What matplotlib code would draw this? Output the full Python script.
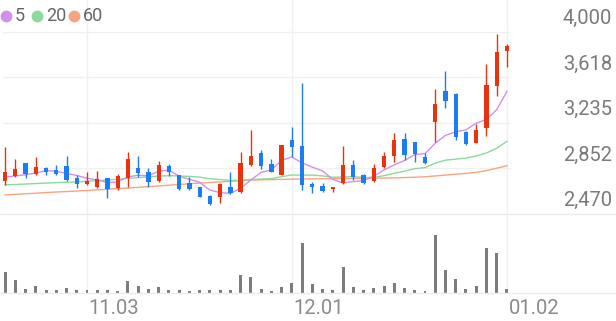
import numpy as np
import matplotlib.pyplot as plt
from matplotlib.lines import Line2D
from matplotlib.transforms import blended_transform_factory, offset_copy

plt.rcParams['font.family'] = ['Roboto', 'DejaVu Sans']

# daily candles
opens = [2745, 2790, 2900, 2805, 2855, 2840, 2875, 2775, 2720, 2695,
         2775, 2690, 2775, 2855, 2825, 2745, 2875, 2800, 2730, 2695,
         2620, 2615, 2695, 2655, 2880, 2985, 2890, 2800, 3090, 3040,
         2720, 2705, 2680, 2730, 2880, 2800, 2745, 2865, 2960, 3100,
         3075, 2950, 3245, 3505, 3480, 3160, 3065, 3195, 3545, 3840]
highs = [3035, 2930, 2900, 2950, 2865, 2880, 2960, 2800, 2825, 2830,
         2775, 2805, 2990, 2960, 2855, 2915, 2890, 2800, 2780, 2700,
         2630, 2730, 2825, 2990, 3175, 3010, 2930, 3050, 3200, 3570,
         2740, 2730, 2700, 3040, 2925, 2805, 2890, 2990, 3150, 3150,
         3075, 2985, 3520, 3670, 3485, 3170, 3225, 3730, 3985, 3900]
lows = [2715, 2780, 2775, 2800, 2800, 2800, 2745, 2690, 2715, 2690,
        2605, 2670, 2695, 2780, 2695, 2740, 2790, 2675, 2670, 2610,
        2545, 2560, 2640, 2650, 2875, 2850, 2820, 2795, 2950, 2670,
        2645, 2655, 2655, 2720, 2755, 2725, 2740, 2855, 2905, 2925,
        2905, 2890, 3075, 3360, 3090, 3050, 3065, 3125, 3460, 3705]
closes = [2825, 2850, 2805, 2865, 2825, 2805, 2755, 2720, 2745, 2765,
          2680, 2790, 2930, 2815, 2740, 2880, 2825, 2680, 2680, 2615,
          2555, 2720, 2645, 2900, 2960, 2875, 2825, 3050, 3035, 2715,
          2695, 2665, 2695, 2880, 2780, 2730, 2855, 2960, 3090, 2965,
          2975, 2900, 3395, 3420, 3115, 3060, 3175, 3555, 3830, 3880]
volumes = [420, 255, 80, 135, 55, 65, 100, 55, 55, 55,
           65, 40, 245, 135, 80, 115, 60, 55, 45, 55,
           55, 55, 65, 355, 315, 85, 45, 120, 200, 1000,
           185, 80, 65, 520, 120, 65, 95, 135, 200, 105,
           60, 40, 1155, 465, 285, 85, 145, 900, 800, 80]

# moving average lines as drawn on the chart
ma5 = [2780, 2790, 2800, 2815, 2834, 2830, 2811, 2794, 2770, 2758,
       2733, 2740, 2782, 2796, 2791, 2831, 2838, 2788, 2761, 2736,
       2671, 2650, 2643, 2687, 2756, 2820, 2841, 2922, 2949, 2900,
       2864, 2832, 2761, 2730, 2743, 2750, 2788, 2841, 2883, 2920,
       2969, 2978, 3065, 3131, 3161, 3178, 3233, 3265, 3347, 3500]
ma20 = [2715, 2718, 2722, 2726, 2730, 2734, 2737, 2740, 2745, 2750,
        2755, 2762, 2770, 2776, 2782, 2788, 2792, 2790, 2786, 2780,
        2766, 2760, 2752, 2754, 2760, 2764, 2767, 2784, 2798, 2796,
        2797, 2790, 2779, 2782, 2784, 2776, 2778, 2792, 2812, 2830,
        2851, 2860, 2897, 2923, 2931, 2940, 2958, 2983, 3023, 3081]
ma60 = [2630, 2635, 2640, 2645, 2650, 2655, 2659, 2663, 2668, 2673,
        2678, 2683, 2688, 2694, 2700, 2706, 2712, 2718, 2724, 2730,
        2735, 2740, 2745, 2750, 2755, 2757, 2759, 2761, 2763, 2764,
        2765, 2766, 2767, 2768, 2769, 2770, 2771, 2772, 2774, 2776,
        2779, 2783, 2790, 2797, 2805, 2811, 2820, 2835, 2855, 2876]

tick_idx = [8, 28, 49]
tick_labels = ['11.03', '12.01', '01.02']
price_ticks = [2470, 2852.5, 3235, 3617.5, 4000]
price_labels = ['2,470', '2,852', '3,235', '3,618', '4,000']

up_col = '#e8330f'
down_col = '#1a7ef2'
grid_col = '#f0f0f0'

fig = plt.figure(figsize=(6.16, 3.21), dpi=100)
W, H = 616, 321
ax = fig.add_axes([3 / W, (H - 214) / H, 507 / W, 214 / H])
axv = fig.add_axes([3 / W, (H - 293) / H, 507 / W, 79 / H])

x = np.arange(len(closes))
o = np.array(opens)
c = np.array(closes)
cols = [up_col if cc >= oo else down_col for oo, cc in zip(o, c)]

# moving averages
ax.plot(x, ma60, color='#f9a47c', lw=1.0, zorder=2)
ax.plot(x, ma20, color='#8cd99e', lw=1.0, zorder=2)
ax.plot(x, ma5, color='#d48ef0', lw=1.0, zorder=2)

# candles
ax.vlines(x, lows, highs, colors=cols, lw=1.0, zorder=3)
body_h = np.maximum(np.abs(c - o), 8)
ax.bar(x, body_h, bottom=np.minimum(o, c), width=0.42, color=cols, zorder=4)

for a in (ax, axv):
    a.set_xlim(-0.2, 49.3)
    for t in tick_idx:
        a.axvline(t, color=grid_col, lw=1.0, zorder=0)
    a.set_xticks([])
    a.set_yticks([])
    for s in a.spines.values():
        s.set_visible(False)
    a.patch.set_alpha(0)

ax.set_ylim(2470, 4269)
for p in price_ticks[1:]:
    ax.axhline(p, color=grid_col, lw=1.0, zorder=0)

# price labels on the right, sitting above their grid lines
tr = offset_copy(blended_transform_factory(fig.transFigure, ax.transData),
                 fig=fig, x=0, y=13.5, units='dots')
for p, lab in zip(price_ticks, price_labels):
    ax.text(612 / W, p, lab, transform=tr, ha='right', va='center',
            fontsize=14.5, color='#7a7a7a')

# volume
axv.bar(x, volumes, width=0.29, color='#7c7c7c', zorder=3)
axv.set_ylim(0, 1580)

# date labels
trd = blended_transform_factory(axv.transData, fig.transFigure)
for t, lab in zip(tick_idx, tick_labels):
    axv.text(t + 2.62, (H - 309) / H, lab, transform=trd, ha='center',
             va='center', fontsize=14.5, color='#8a8a8a')

# full-width separator lines
for yp in (214, 293):
    fig.add_artist(Line2D([0, 1], [(H - yp) / H] * 2, transform=fig.transFigure,
                          color='#ebebeb', lw=1.0))

# legend
leg = [('5', '#d48ef0', 6), ('20', '#8cd99e', 37), ('60', '#f9a47c', 74)]
for lab, col, px in leg:
    fig.add_artist(Line2D([px / W], [(H - 16) / H], marker='o', markersize=7.5,
                          color=col, transform=fig.transFigure))
    fig.text((px + 9) / W, (H - 16) / H, lab, ha='left', va='center',
             fontsize=13, color='#666666')

fig.savefig('out.png', dpi=100)
